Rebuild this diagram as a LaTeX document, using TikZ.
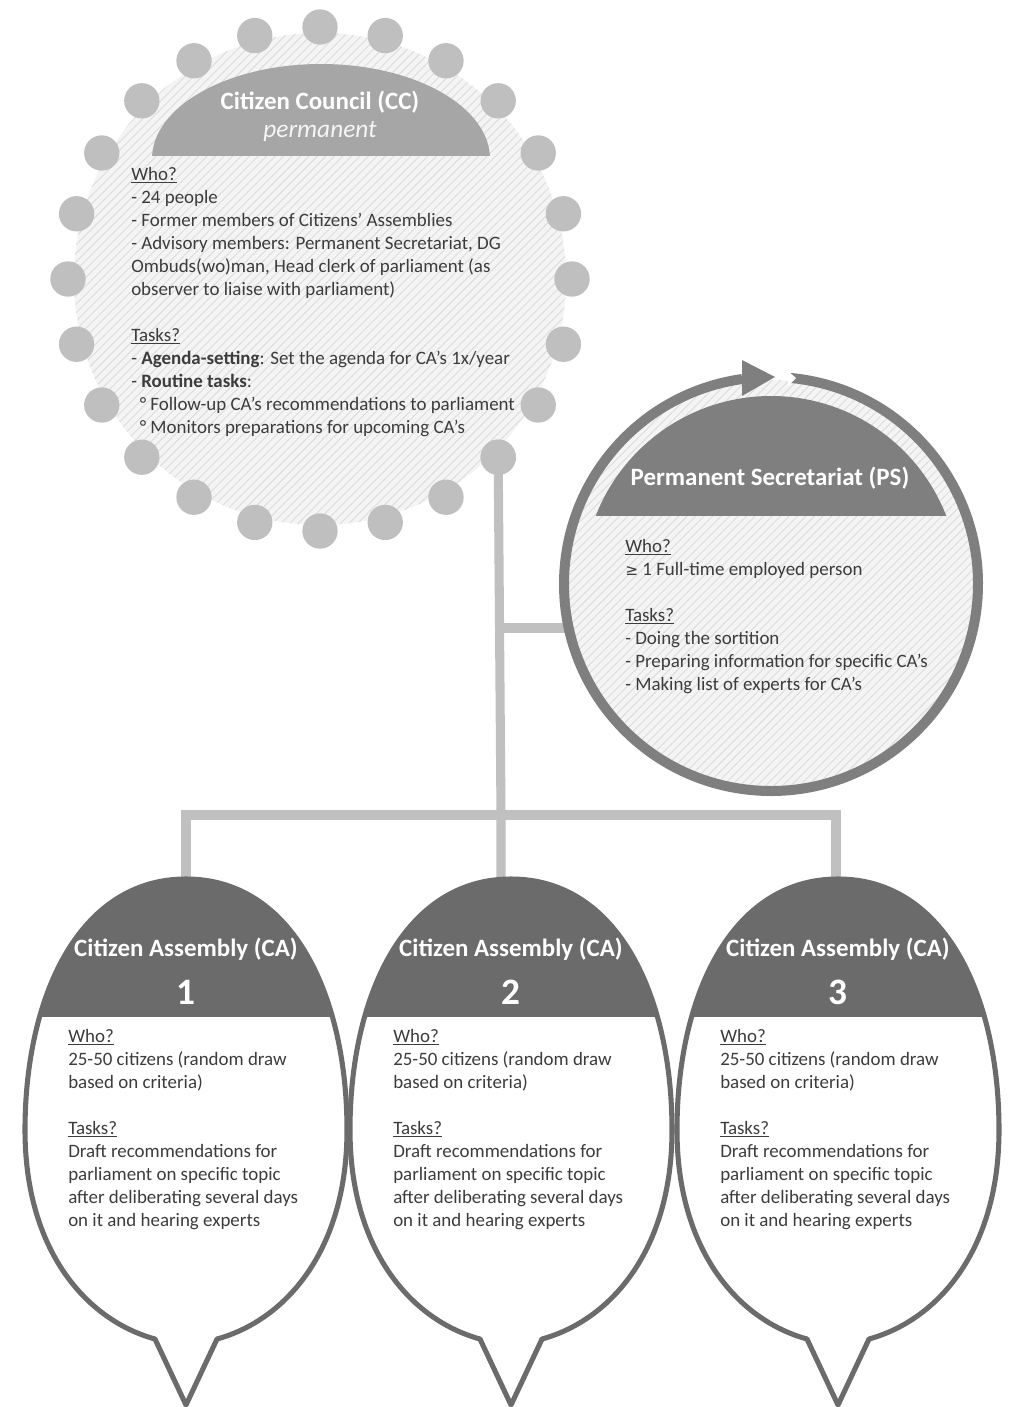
\documentclass[tikz,border=0pt]{standalone}
\usepackage{fontspec}
\setmainfont{Carlito}
\newfontfamily\symf{DejaVu Sans}
\usetikzlibrary{patterns.meta,calc}
\definecolor{txt}{HTML}{3C3C3C}
\definecolor{cchead}{HTML}{A6A6A6}
\definecolor{dotgray}{HTML}{BFBFBF}
\definecolor{conn}{HTML}{C0C0C0}
\definecolor{psgray}{HTML}{7F7F7F}
\definecolor{cagray}{HTML}{6B6B6B}
\definecolor{hatchbg}{HTML}{F4F4F4}
\definecolor{hatchln}{HTML}{DCDCDC}
\tikzset{
  bodytext/.style={anchor=north west, inner sep=0pt, align=left, text=txt,
    font=\fontsize{14.2}{17.25}\selectfont},
  titletext/.style={inner sep=0pt, text=white, font=\fontsize{18.7}{21}\selectfont\bfseries},
  numtext/.style={inner sep=0pt, text=white, font=\fontsize{28}{30}\selectfont\bfseries},
  ccdot/.style={circle, fill=dotgray, inner sep=0pt, minimum size=26.5pt},
  connector/.style={draw=conn, line width=6.8pt},
  hatched/.style={pattern={Lines[angle=45,distance=4.5pt,line width=0.7pt]}, pattern color=hatchln},
  ring/.style={draw=psgray, line width=7.5pt},
  balloonline/.style={draw=cagray, line width=3.8pt, line join=round}
}
\newcommand{\balloon}{(0,1405) -- (31,1339) .. controls (100,1320) and (161,1250) .. (161,1130)
  .. controls (161,998) and (108,879) .. (0,879)
  .. controls (-108,879) and (-161,998) .. (-161,1130)
  .. controls (-161,1250) and (-100,1320) .. (-31,1339) -- cycle}
\begin{document}
\begin{tikzpicture}[x=0.75pt,y=-0.75pt]
\useasboundingbox (0,0) rectangle (1015,1407);
\fill[white] (0,0) rectangle (1015,1407);

% key coordinates
\coordinate (cc) at (320,279);
\coordinate (ps) at (771,584);
\coordinate (psw) at (566,628);
\coordinate (j1) at (501,628);
\coordinate (j2) at (501,815);
\coordinate (ca1top) at (186,885);
\coordinate (ca2top) at (501,890);
\coordinate (ca3top) at (836,885);
\coordinate (h1) at (186,815);
\coordinate (h3) at (836,815);

% ---------- Citizen Council ----------
\fill[hatchbg] (cc) circle[radius=246];
\fill[hatched] (cc) circle[radius=246];
\foreach \i in {0,...,23}{
  \node[ccdot] (dot\i) at ($(cc)+(\i*15:252)$) {};
}

% connectors
\draw[connector] (dot3.center) -- (j2) -- (ca2top);
\draw[connector] (j1) -- (psw);
\draw[connector] (ca1top) -- (h1) -- (h3) -- (ca3top);
\node[ccdot] at (dot3) {};

\begin{scope}
  \clip (0,0) rectangle (1015,155);
  \fill[cchead] (321,159) ellipse[x radius=169, y radius=95];
\end{scope}
\node[titletext] (cctitle) at (320,102) {Citizen Council (CC)};
\node[inner sep=0pt, text=white!92!gray, font=\fontsize{19}{21}\selectfont\itshape] (ccsub) at (320,132) {permanent};
\node[bodytext] (cctext) at (131,167) {\underline{Who?}\\
- 24 people\\
- Former members of Citizens' Assemblies\\
- Advisory members: Permanent Secretariat, DG\\
Ombuds(wo)man, Head clerk of parliament (as\\
observer to liaise with parliament)\\[17.25pt]
\underline{Tasks?}\\
- \textbf{Agenda-setting}: Set the agenda for CA’s 1x/year\\
- \textbf{Routine tasks}:\\
\hspace{0.45em}° Follow-up CA’s recommendations to parliament\\
\hspace{0.45em}° Monitors preparations for upcoming CA’s};

% ---------- Permanent Secretariat ----------
\fill[hatchbg] (ps) circle[radius=204];
\fill[hatched] (ps) circle[radius=204];
\begin{scope}
  \clip (0,0) rectangle (1015,515);
  \fill[psgray] (ps) circle[radius=188];
\end{scope}
\draw[ring] ($(ps)+(-84.7:207)$) arc[start angle=-84.7, end angle=262, radius=207];
\fill[psgray] (742,360) -- (775,377) -- (742,396) -- cycle;
\fill[white] (788,371) -- (796,378) -- (788,386) -- cycle;
\node[titletext] (pstitle) at (770,478) {Permanent Secretariat (PS)};
\node[bodytext] (pstext) at (625,539) {\underline{Who?}\\
{\symf\fontsize{11.5}{17.25}\selectfont ≥} 1 Full-time employed person\\[17.25pt]
\underline{Tasks?}\\
- Doing the sortition\\
- Preparing information for specific CA’s\\
- Making list of experts for CA’s};

% ---------- Citizen Assemblies ----------
\foreach \cx/\n in {186/1, 511/2, 838/3}{
  \begin{scope}[shift={(\cx,0)}]
    \fill[white] \balloon;
    \begin{scope}
      \clip \balloon;
      \fill[cagray] (-200,800) rectangle (200,1017);
    \end{scope}
    \draw[balloonline] \balloon;
    \node[titletext] (catitle\n) at (0,949) {Citizen Assembly (CA)};
    \node[numtext] (canum\n) at (0,992) {\n};
    \node[bodytext] (catext\n) at (-118,1029) {\underline{Who?}\\
25-50 citizens (random draw\\
based on criteria)\\[17.25pt]
\underline{Tasks?}\\
Draft recommendations for\\
parliament on specific topic\\
after deliberating several days\\
on it and hearing experts};
  \end{scope}
}
\end{tikzpicture}
\end{document}
